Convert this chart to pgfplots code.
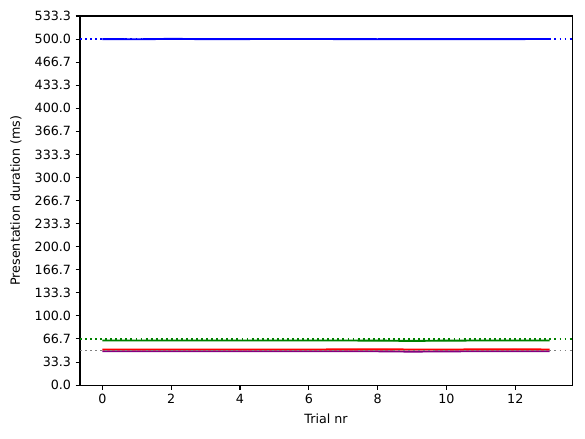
\documentclass[border=0pt]{standalone}
\usepackage{fontspec}
\setmainfont{DejaVu Sans}
\usepackage{pgfplots}
\pgfplotsset{compat=1.18}

\definecolor{mblue}{RGB}{0,0,255}
\definecolor{mgreen}{RGB}{0,128,0}
\definecolor{mred}{RGB}{255,0,0}
\definecolor{mpurple}{RGB}{128,0,128}
\definecolor{mgray}{RGB}{128,128,128}

\begin{document}
\begin{tikzpicture}
\begin{axis}[
    scale only axis,
    width=387.5pt, height=290.7pt,
    xmin=-0.65, xmax=13.65,
    ymin=0, ymax=533.3333,
    xtick={0,2,4,6,8,10,12},
    ytick={0,33.3333,66.6667,100,133.3333,166.6667,200,233.3333,266.6667,300,333.3333,366.6667,400,433.3333,466.6667,500,533.3333},
    yticklabel style={/pgf/number format/.cd, fixed, fixed zerofill, precision=1},
    /pgf/number format/assume math mode=true,
    tick align=outside, tick pos=left,
    major tick length=3.5pt,
    every tick/.style={black, line width=0.8pt},
    axis line style={line width=0.8pt},
    tick label style={font=\fontsize{10}{12}\selectfont},
    label style={font=\fontsize{10}{12}\selectfont},
    xlabel={Trial nr},
    ylabel={Presentation duration (ms)},
    every axis x label/.style={at={([yshift=-26.8pt]axis description cs:0.5,0)}, anchor=center},
    every axis y label/.style={at={([xshift=-50.4pt]axis description cs:0,0.5)}, anchor=center, rotate=90},
    clip=true,
]
\coordinate (sw) at (rel axis cs:0,0);
\coordinate (ne) at (rel axis cs:1,1);

% std bands
\addplot[draw=none, fill=mblue, fill opacity=0.2] coordinates {
 (0,500.6) (1,500.3) (2,500.9) (3,500.4) (4,500.3) (5,500.4) (6,500.4) (7,500.5) (8,500.4) (9,500.3) (10,500.3) (11,500.3) (12,500.3) (13,500.4)
 (13,499.8) (12,499.7) (11,499.7) (10,499.7) (9,499.5) (8,499.2) (7,499.5) (6,499.8) (5,499.8) (4,499.7) (3,499.4) (2,499.7) (1,499.1) (0,499.4)} -- cycle;
\addplot[draw=none, fill=mgreen, fill opacity=0.2] coordinates {
 (0,64.8) (1,64.8) (2,64.8) (3,64.8) (4,64.8) (5,64.8) (6,64.8) (7,64.8) (8,64.8) (9,64.8) (10,64.8) (11,64.8) (12,64.8) (13,64.8)
 (13,64.2) (12,64.2) (11,64.2) (10,63.4) (9,62.6) (8,63.4) (7,64.2) (6,64.2) (5,64.2) (4,64.2) (3,64.2) (2,64.2) (1,64.2) (0,64.2)} -- cycle;
\addplot[draw=none, fill=mred, fill opacity=0.2] coordinates {
 (0,51.8) (1,51.8) (2,51.8) (3,51.8) (4,51.8) (5,51.8) (6,51.8) (7,52.4) (8,52.8) (9,52.0) (10,51.8) (11,52.2) (12,52.6) (13,51.8)
 (13,51.2) (12,51.2) (11,51.2) (10,51.2) (9,51.2) (8,51.2) (7,51.2) (6,51.2) (5,51.2) (4,51.2) (3,51.2) (2,51.2) (1,51.2) (0,51.2)} -- cycle;
\addplot[draw=none, fill=mpurple, fill opacity=0.2] coordinates {
 (0,49.3) (1,49.3) (2,49.3) (3,49.3) (4,49.3) (5,49.3) (6,49.3) (7,49.3) (8,49.3) (9,49.0) (10,49.3) (11,49.3) (12,49.3) (13,49.3)
 (13,48.7) (12,48.7) (11,48.7) (10,48.2) (9,47.6) (8,48.4) (7,48.7) (6,48.7) (5,48.7) (4,48.7) (3,48.7) (2,48.7) (1,48.7) (0,48.7)} -- cycle;

% mean durations
\addplot[mblue, line width=1.5pt] coordinates {
 (0,500.0) (1,499.7) (2,500.3) (3,499.9) (4,500.0) (5,500.1) (6,500.1) (7,500.0) (8,499.8) (9,499.9) (10,500.0) (11,500.0) (12,500.0) (13,500.1)};
\addplot[mgreen, line width=1.5pt] coordinates {
 (0,64.5) (1,64.5) (2,64.5) (3,64.5) (4,64.5) (5,64.5) (6,64.5) (7,64.5) (8,64.3) (9,63.9) (10,64.3) (11,64.5) (12,64.5) (13,64.5)};
\addplot[mpurple, line width=1.5pt] coordinates {
 (0,49.0) (1,49.0) (2,49.0) (3,49.0) (4,49.0) (5,49.0) (6,49.0) (7,49.0) (8,48.9) (9,48.4) (10,48.8) (11,49.0) (12,49.0) (13,49.0)};
\addplot[mred, line width=1.5pt] coordinates {
 (0,51.5) (1,51.5) (2,51.5) (3,51.5) (4,51.5) (5,51.5) (6,51.5) (7,51.6) (8,51.7) (9,51.5) (10,51.5) (11,51.6) (12,51.7) (13,51.5)};

% target durations
\addplot[mblue, line width=1.5pt, dash pattern=on 1.5pt off 2.475pt] coordinates {(-0.65,500) (13.65,500)};
\addplot[mgreen, line width=1.5pt, dash pattern=on 1.5pt off 2.475pt] coordinates {(-0.65,66.6667) (13.65,66.6667)};
\addplot[mgray, line width=1.5pt, dash pattern=on 1.5pt off 2.475pt] coordinates {(-0.65,50) (13.65,50)};
\end{axis}
\path[use as bounding box] ([shift={(-63pt,-41.7pt)}]sw) rectangle ([shift={(10.2pt,12.6pt)}]ne);
\end{tikzpicture}
\end{document}
